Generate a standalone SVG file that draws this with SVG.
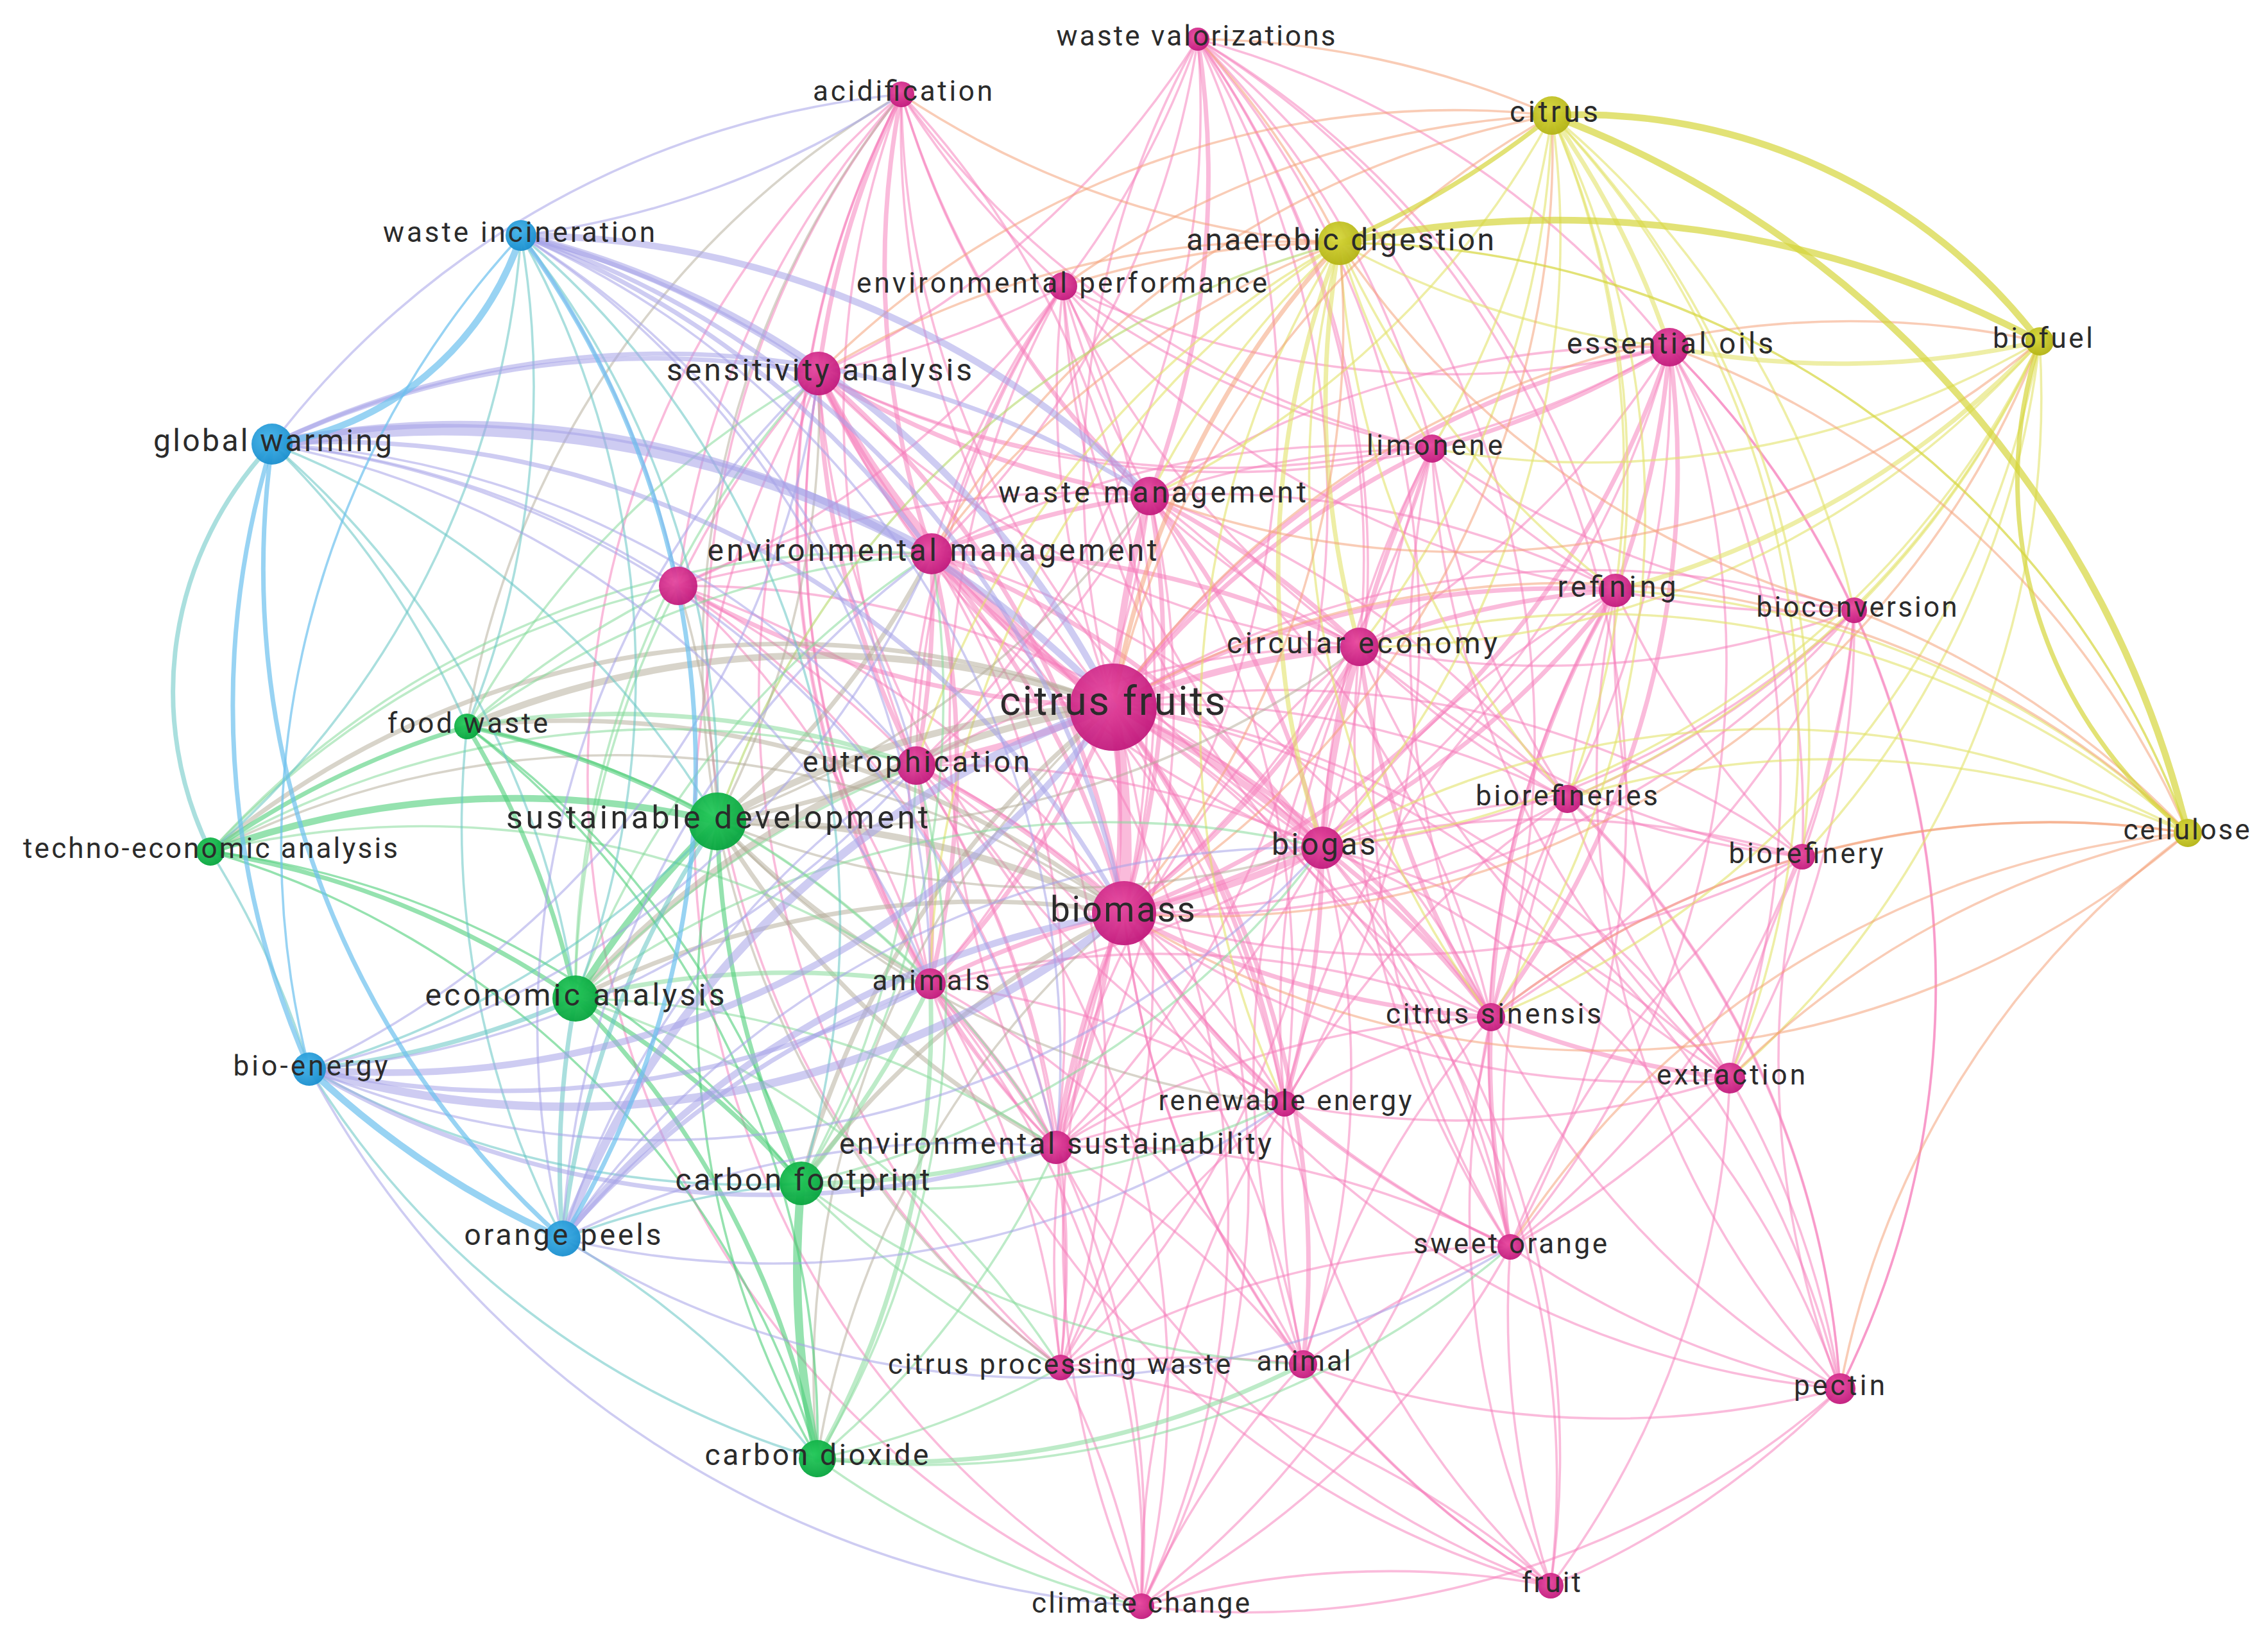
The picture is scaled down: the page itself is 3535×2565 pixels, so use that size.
<svg xmlns="http://www.w3.org/2000/svg" width="3535" height="2565" viewBox="0 0 3535 2565">
<defs>
<radialGradient id="gPk" cx=".42" cy=".38" r=".62"><stop offset="0" stop-color="#e8499f"/><stop offset="1" stop-color="#c21a7d"/></radialGradient>
<radialGradient id="gBl" cx=".42" cy=".38" r=".62"><stop offset="0" stop-color="#41b2e8"/><stop offset="1" stop-color="#1a8fcf"/></radialGradient>
<radialGradient id="gGr" cx=".42" cy=".38" r=".62"><stop offset="0" stop-color="#25c95a"/><stop offset="1" stop-color="#07a53e"/></radialGradient>
<radialGradient id="gYe" cx=".42" cy=".38" r=".62"><stop offset="0" stop-color="#d7d73c"/><stop offset="1" stop-color="#b4b414"/></radialGradient>
</defs>
<style>
#edges path{fill:none;stroke-width:3.6;stroke-linecap:round}
#edges path.w2{stroke-width:7}
#edges path.w3{stroke-width:10.5}
#edges path.w4{stroke-width:13}
#edges path.w5{stroke-width:18}
.pp{stroke:#f57cba;stroke-opacity:.52}
.yy{stroke:#d6d63c;stroke-opacity:.7}
.yl{stroke:#e2e26a;stroke-opacity:.6}
.yp{stroke:#f4a27a;stroke-opacity:.55}
.bb{stroke:#6cc0ee;stroke-opacity:.7}
.bp{stroke:#a6a2e8;stroke-opacity:.55}
.bg{stroke:#64c4c2;stroke-opacity:.55}
.gg{stroke:#4fcf79;stroke-opacity:.6}
.gl{stroke:#86da9a;stroke-opacity:.55}
.gp{stroke:#b1aa96;stroke-opacity:.5}
.gy{stroke:#b6d86a;stroke-opacity:.6}
.np{fill:url(#gPk);fill-opacity:.95}
.nb{fill:url(#gBl);fill-opacity:.95}
.ng{fill:url(#gGr);fill-opacity:.95}
.ny{fill:url(#gYe);fill-opacity:.95}
text{font-family:Roboto,"Liberation Sans",sans-serif;fill:#2b2b2b;text-anchor:middle}
.f44{font-size:44px}.f46{font-size:46px}.f48{font-size:48px}.f50{font-size:50px}.f55{font-size:55px}.f63{font-size:63px}
</style>
<rect width="3535" height="2565" fill="#ffffff"/>
<g id="edges">
<g class="pp">
<path d="M1735 1100A1400 1400 0 0 1 1867 61"/>
<path d="M1735 1100A1400 1400 0 0 1 1405 147"/>
<path d="M1735 1100A1400 1400 0 0 1 1657 446"/>
<path class="w2" d="M1735 1100A1400 1400 0 0 1 2602 541"/>
<path class="w3" d="M1735 1100A1400 1400 0 0 1 1276 582"/>
<path class="w2" d="M1735 1100A1400 1400 0 0 1 2232 699"/>
<path class="w3" d="M1735 1100A1400 1400 0 0 1 1792 773"/>
<path class="w3" d="M1735 1100A1400 1400 0 0 1 1452 863"/>
<path class="w2" d="M1735 1100A1400 1400 0 0 1 1057 913"/>
<path class="w2" d="M1735 1100A1400 1400 0 0 1 2518 920"/>
<path d="M1735 1100A1400 1400 0 0 1 2890 951"/>
<path class="w3" d="M1735 1100A1400 1400 0 0 1 2119 1008"/>
<path class="w3" d="M1735 1100A1400 1400 0 0 1 1428 1193"/>
<path d="M1735 1100A1400 1400 0 0 1 2443 1245"/>
<path class="w3" d="M1735 1100A1400 1400 0 0 1 2061 1321"/>
<path d="M1735 1100A1400 1400 0 0 1 2809 1335"/>
<path class="w5" d="M1735 1100A1400 1400 0 0 1 1752 1423"/>
<path class="w2" d="M1735 1100A1400 1400 0 0 1 1450 1533"/>
<path class="w2" d="M1735 1100A1400 1400 0 0 1 2324 1585"/>
<path d="M1735 1100A1400 1400 0 0 1 2696 1680"/>
<path class="w2" d="M1735 1100A1400 1400 0 0 1 2002 1720"/>
<path class="w2" d="M1735 1100A1400 1400 0 0 1 1646 1788"/>
<path d="M1735 1100A1400 1400 0 0 1 2354 1943"/>
<path d="M1735 1100A1400 1400 0 0 1 1653 2131"/>
<path class="w2" d="M1735 1100A1400 1400 0 0 1 2031 2126"/>
<path d="M1735 1100A1400 1400 0 0 1 2868 2164"/>
<path d="M1735 1100A1400 1400 0 0 1 2417 2471"/>
<path d="M1735 1100A1400 1400 0 0 1 1779 2503"/>
<path d="M1752 1423A1400 1400 0 0 0 1867 61"/>
<path d="M1752 1423A1400 1400 0 0 0 1405 147"/>
<path d="M1752 1423A1400 1400 0 0 0 1657 446"/>
<path class="w2" d="M1752 1423A1400 1400 0 0 0 2602 541"/>
<path class="w2" d="M1752 1423A1400 1400 0 0 0 1276 582"/>
<path d="M1752 1423A1400 1400 0 0 0 2232 699"/>
<path class="w2" d="M1752 1423A1400 1400 0 0 0 1792 773"/>
<path class="w2" d="M1752 1423A1400 1400 0 0 0 1452 863"/>
<path d="M1752 1423A1400 1400 0 0 0 1057 913"/>
<path class="w2" d="M1752 1423A1400 1400 0 0 0 2518 920"/>
<path d="M1752 1423A1400 1400 0 0 0 2890 951"/>
<path class="w2" d="M1752 1423A1400 1400 0 0 0 2119 1008"/>
<path class="w2" d="M1752 1423A1400 1400 0 0 0 1428 1193"/>
<path d="M1752 1423A1400 1400 0 0 0 2443 1245"/>
<path class="w3" d="M1752 1423A1400 1400 0 0 0 2061 1321"/>
<path d="M1752 1423A1400 1400 0 0 0 2809 1335"/>
<path class="w2" d="M1752 1423A1400 1400 0 0 0 1450 1533"/>
<path class="w2" d="M1752 1423A1400 1400 0 0 0 2324 1585"/>
<path d="M1752 1423A1400 1400 0 0 0 2696 1680"/>
<path class="w2" d="M1752 1423A1400 1400 0 0 0 2002 1720"/>
<path class="w2" d="M1752 1423A1400 1400 0 0 0 1646 1788"/>
<path d="M1752 1423A1400 1400 0 0 0 2354 1943"/>
<path d="M1752 1423A1400 1400 0 0 0 1653 2131"/>
<path d="M1752 1423A1400 1400 0 0 0 2031 2126"/>
<path d="M1752 1423A1400 1400 0 0 0 2868 2164"/>
<path d="M1752 1423A1400 1400 0 0 0 2417 2471"/>
<path d="M1752 1423A1400 1400 0 0 0 1779 2503"/>
<path d="M1867 61A1400 1400 0 0 1 1657 446"/>
<path d="M1867 61A1400 1400 0 0 1 1276 582"/>
<path class="w2" d="M1867 61A1400 1400 0 0 1 1792 773"/>
<path d="M1867 61A1400 1400 0 0 1 1452 863"/>
<path d="M1867 61A1400 1400 0 0 1 2119 1008"/>
<path d="M1867 61A1400 1400 0 0 1 2061 1321"/>
<path d="M1867 61A1400 1400 0 0 1 2232 699"/>
<path d="M1867 61A1400 1400 0 0 1 2602 541"/>
<path d="M1867 61A1400 1400 0 0 1 2518 920"/>
<path d="M1867 61A1400 1400 0 0 1 1428 1193"/>
<path d="M1867 61A1400 1400 0 0 1 1646 1788"/>
<path d="M1867 61A1400 1400 0 0 1 2002 1720"/>
<path d="M1867 61A1400 1400 0 0 1 2324 1585"/>
<path d="M1867 61A1400 1400 0 0 1 2354 1943"/>
<path class="w2" d="M1405 147A1400 1400 0 0 0 1276 582"/>
<path class="w2" d="M1405 147A1400 1400 0 0 0 1452 863"/>
<path d="M1405 147A1400 1400 0 0 0 1657 446"/>
<path d="M1405 147A1400 1400 0 0 0 1428 1193"/>
<path d="M1405 147A1400 1400 0 0 0 1450 1533"/>
<path d="M1405 147A1400 1400 0 0 0 1646 1788"/>
<path d="M1405 147A1400 1400 0 0 0 1653 2131"/>
<path d="M1405 147A1400 1400 0 0 0 1779 2503"/>
<path d="M1405 147A1400 1400 0 0 0 1057 913"/>
<path d="M1405 147A1400 1400 0 0 0 1792 773"/>
<path d="M1405 147A1400 1400 0 0 0 2061 1321"/>
<path d="M1405 147A1400 1400 0 0 0 2119 1008"/>
<path d="M1405 147A1400 1400 0 0 0 2232 699"/>
<path d="M1057 913A1400 1400 0 0 1 1452 863"/>
<path d="M1057 913A1400 1400 0 0 1 1276 582"/>
<path d="M1057 913A1400 1400 0 0 1 1428 1193"/>
<path d="M1057 913A1400 1400 0 0 1 1450 1533"/>
<path d="M1057 913A1400 1400 0 0 1 1646 1788"/>
<path d="M1057 913A1400 1400 0 0 1 2061 1321"/>
<path d="M1057 913A1400 1400 0 0 1 1792 773"/>
<path d="M1057 913A1400 1400 0 0 0 1657 446"/>
<path class="w3" d="M1276 582A1400 1400 0 0 0 1452 863"/>
<path class="w2" d="M1276 582A1400 1400 0 0 0 1428 1193"/>
<path class="w2" d="M1276 582A1400 1400 0 0 0 1792 773"/>
<path d="M1276 582A1400 1400 0 0 0 1657 446"/>
<path d="M1276 582A1400 1400 0 0 0 1450 1533"/>
<path d="M1276 582A1400 1400 0 0 0 1646 1788"/>
<path d="M1276 582A1400 1400 0 0 0 2119 1008"/>
<path d="M1276 582A1400 1400 0 0 0 2061 1321"/>
<path d="M1276 582A1400 1400 0 0 0 2002 1720"/>
<path d="M1276 582A1400 1400 0 0 0 1653 2131"/>
<path d="M1276 582A1400 1400 0 0 0 1779 2503"/>
<path d="M1276 582A1400 1400 0 0 0 2232 699"/>
<path d="M1276 582A1400 1400 0 0 0 2602 541"/>
<path class="w2" d="M1452 863A1400 1400 0 0 1 1428 1193"/>
<path class="w2" d="M1452 863A1400 1400 0 0 1 1792 773"/>
<path d="M1452 863A1400 1400 0 0 1 1657 446"/>
<path class="w2" d="M1452 863A1400 1400 0 0 1 1450 1533"/>
<path d="M1452 863A1400 1400 0 0 1 1646 1788"/>
<path class="w2" d="M1452 863A1400 1400 0 0 1 2119 1008"/>
<path class="w2" d="M1452 863A1400 1400 0 0 1 2061 1321"/>
<path d="M1452 863A1400 1400 0 0 1 2002 1720"/>
<path d="M1452 863A1400 1400 0 0 1 1653 2131"/>
<path d="M1452 863A1400 1400 0 0 1 1779 2503"/>
<path d="M1452 863A1400 1400 0 0 1 2232 699"/>
<path d="M1452 863A1400 1400 0 0 1 2324 1585"/>
<path d="M1657 446A1400 1400 0 0 0 1792 773"/>
<path d="M1657 446A1400 1400 0 0 0 2119 1008"/>
<path d="M1657 446A1400 1400 0 0 0 2232 699"/>
<path d="M1657 446A1400 1400 0 0 0 2602 541"/>
<path d="M1657 446A1400 1400 0 0 0 2061 1321"/>
<path d="M1657 446A1400 1400 0 0 0 1428 1193"/>
<path d="M1657 446A1400 1400 0 0 0 1450 1533"/>
<path d="M1657 446A1400 1400 0 0 0 1646 1788"/>
<path d="M1657 446A1400 1400 0 0 0 2518 920"/>
<path d="M1657 446A1400 1400 0 0 0 2324 1585"/>
<path class="w2" d="M1792 773A1400 1400 0 0 1 2119 1008"/>
<path d="M1792 773A1400 1400 0 0 1 2232 699"/>
<path class="w2" d="M1792 773A1400 1400 0 0 1 2061 1321"/>
<path d="M1792 773A1400 1400 0 0 1 1428 1193"/>
<path d="M1792 773A1400 1400 0 0 1 1450 1533"/>
<path d="M1792 773A1400 1400 0 0 1 1646 1788"/>
<path d="M1792 773A1400 1400 0 0 1 2002 1720"/>
<path d="M1792 773A1400 1400 0 0 1 2518 920"/>
<path d="M1792 773A1400 1400 0 0 1 2602 541"/>
<path d="M1792 773A1400 1400 0 0 1 2324 1585"/>
<path d="M1792 773A1400 1400 0 0 1 2443 1245"/>
<path class="w2" d="M2232 699A1400 1400 0 0 0 2602 541"/>
<path d="M2232 699A1400 1400 0 0 0 2518 920"/>
<path class="w2" d="M2232 699A1400 1400 0 0 0 2119 1008"/>
<path d="M2232 699A1400 1400 0 0 0 2061 1321"/>
<path d="M2232 699A1400 1400 0 0 0 2443 1245"/>
<path d="M2232 699A1400 1400 0 0 0 2324 1585"/>
<path d="M2232 699A1400 1400 0 0 0 2890 951"/>
<path d="M2232 699A1400 1400 0 0 0 2696 1680"/>
<path d="M2232 699A1400 1400 0 0 0 2354 1943"/>
<path class="w2" d="M2602 541A1400 1400 0 0 1 2518 920"/>
<path d="M2602 541A1400 1400 0 0 1 2890 951"/>
<path d="M2602 541A1400 1400 0 0 1 2119 1008"/>
<path d="M2602 541A1400 1400 0 0 1 2443 1245"/>
<path d="M2602 541A1400 1400 0 0 1 2809 1335"/>
<path class="w2" d="M2602 541A1400 1400 0 0 1 2324 1585"/>
<path d="M2602 541A1400 1400 0 0 1 2696 1680"/>
<path d="M2602 541A1400 1400 0 0 1 2354 1943"/>
<path d="M2602 541A1400 1400 0 0 1 2061 1321"/>
<path d="M2602 541A1400 1400 0 0 1 2868 2164"/>
<path d="M2518 920A1400 1400 0 0 0 2890 951"/>
<path class="w2" d="M2518 920A1400 1400 0 0 0 2119 1008"/>
<path d="M2518 920A1400 1400 0 0 0 2443 1245"/>
<path d="M2518 920A1400 1400 0 0 0 2809 1335"/>
<path class="w2" d="M2518 920A1400 1400 0 0 0 2324 1585"/>
<path d="M2518 920A1400 1400 0 0 0 2696 1680"/>
<path d="M2518 920A1400 1400 0 0 0 2061 1321"/>
<path d="M2518 920A1400 1400 0 0 0 2354 1943"/>
<path d="M2518 920A1400 1400 0 0 0 2868 2164"/>
<path d="M2518 920A1400 1400 0 0 0 2002 1720"/>
<path d="M2890 951A1400 1400 0 0 1 2809 1335"/>
<path d="M2890 951A1400 1400 0 0 1 2443 1245"/>
<path d="M2890 951A1400 1400 0 0 1 2324 1585"/>
<path d="M2890 951A1400 1400 0 0 1 2696 1680"/>
<path d="M2890 951A1400 1400 0 0 1 2119 1008"/>
<path d="M2890 951A1400 1400 0 0 1 2061 1321"/>
<path d="M2890 951A1400 1400 0 0 1 2868 2164"/>
<path d="M2890 951A1400 1400 0 0 1 2354 1943"/>
<path class="w3" d="M2119 1008A1400 1400 0 0 0 2061 1321"/>
<path d="M2119 1008A1400 1400 0 0 0 2443 1245"/>
<path class="w2" d="M2119 1008A1400 1400 0 0 0 2324 1585"/>
<path d="M2119 1008A1400 1400 0 0 0 2002 1720"/>
<path d="M2119 1008A1400 1400 0 0 0 1428 1193"/>
<path d="M2119 1008A1400 1400 0 0 0 2809 1335"/>
<path d="M2119 1008A1400 1400 0 0 0 2696 1680"/>
<path d="M2119 1008A1400 1400 0 0 0 2354 1943"/>
<path d="M2119 1008A1400 1400 0 0 0 2031 2126"/>
<path d="M2119 1008A1400 1400 0 0 0 1646 1788"/>
<path class="w2" d="M1428 1193A1400 1400 0 0 1 1450 1533"/>
<path d="M1428 1193A1400 1400 0 0 1 1646 1788"/>
<path d="M1428 1193A1400 1400 0 0 1 2061 1321"/>
<path d="M1428 1193A1400 1400 0 0 1 1653 2131"/>
<path d="M1428 1193A1400 1400 0 0 1 2002 1720"/>
<path d="M1428 1193A1400 1400 0 0 1 1779 2503"/>
<path d="M1428 1193A1400 1400 0 0 1 2031 2126"/>
<path d="M2443 1245A1400 1400 0 0 0 2809 1335"/>
<path d="M2443 1245A1400 1400 0 0 0 2324 1585"/>
<path d="M2443 1245A1400 1400 0 0 0 2696 1680"/>
<path d="M2443 1245A1400 1400 0 0 0 2061 1321"/>
<path d="M2443 1245A1400 1400 0 0 0 2354 1943"/>
<path d="M2443 1245A1400 1400 0 0 0 2002 1720"/>
<path class="w2" d="M2061 1321A1400 1400 0 0 1 2324 1585"/>
<path class="w2" d="M2061 1321A1400 1400 0 0 1 2002 1720"/>
<path d="M2061 1321A1400 1400 0 0 1 2809 1335"/>
<path d="M2061 1321A1400 1400 0 0 1 2696 1680"/>
<path d="M2061 1321A1400 1400 0 0 1 2354 1943"/>
<path d="M2061 1321A1400 1400 0 0 1 2031 2126"/>
<path d="M2061 1321A1400 1400 0 0 1 1646 1788"/>
<path d="M2061 1321A1400 1400 0 0 1 1450 1533"/>
<path d="M2061 1321A1400 1400 0 0 1 1653 2131"/>
<path d="M2061 1321A1400 1400 0 0 1 2868 2164"/>
<path d="M2061 1321A1400 1400 0 0 1 2417 2471"/>
<path d="M2809 1335A1400 1400 0 0 0 2324 1585"/>
<path d="M2809 1335A1400 1400 0 0 0 2696 1680"/>
<path d="M2809 1335A1400 1400 0 0 0 2868 2164"/>
<path d="M2809 1335A1400 1400 0 0 0 2354 1943"/>
<path class="w2" d="M1450 1533A1400 1400 0 0 1 1646 1788"/>
<path d="M1450 1533A1400 1400 0 0 1 1653 2131"/>
<path d="M1450 1533A1400 1400 0 0 1 2031 2126"/>
<path d="M1450 1533A1400 1400 0 0 1 2002 1720"/>
<path d="M1450 1533A1400 1400 0 0 1 1779 2503"/>
<path d="M1450 1533A1400 1400 0 0 1 2324 1585"/>
<path class="w2" d="M2324 1585A1400 1400 0 0 0 2696 1680"/>
<path class="w2" d="M2324 1585A1400 1400 0 0 0 2354 1943"/>
<path d="M2324 1585A1400 1400 0 0 0 2002 1720"/>
<path d="M2324 1585A1400 1400 0 0 0 2031 2126"/>
<path d="M2324 1585A1400 1400 0 0 0 2868 2164"/>
<path d="M2324 1585A1400 1400 0 0 0 2417 2471"/>
<path d="M2324 1585A1400 1400 0 0 0 1646 1788"/>
<path d="M2696 1680A1400 1400 0 0 1 2354 1943"/>
<path d="M2696 1680A1400 1400 0 0 1 2868 2164"/>
<path d="M2696 1680A1400 1400 0 0 1 2417 2471"/>
<path d="M2696 1680A1400 1400 0 0 1 2002 1720"/>
<path d="M2002 1720A1400 1400 0 0 0 1646 1788"/>
<path d="M2002 1720A1400 1400 0 0 0 2354 1943"/>
<path d="M2002 1720A1400 1400 0 0 0 2031 2126"/>
<path d="M2002 1720A1400 1400 0 0 0 1653 2131"/>
<path d="M2002 1720A1400 1400 0 0 0 1779 2503"/>
<path d="M2002 1720A1400 1400 0 0 0 2417 2471"/>
<path d="M1646 1788A1400 1400 0 0 1 1653 2131"/>
<path d="M1646 1788A1400 1400 0 0 1 2031 2126"/>
<path d="M1646 1788A1400 1400 0 0 1 1779 2503"/>
<path d="M1646 1788A1400 1400 0 0 1 2354 1943"/>
<path d="M2354 1943A1400 1400 0 0 0 2031 2126"/>
<path d="M2354 1943A1400 1400 0 0 0 2417 2471"/>
<path d="M2354 1943A1400 1400 0 0 0 2868 2164"/>
<path d="M2354 1943A1400 1400 0 0 0 1653 2131"/>
<path d="M1653 2131A1400 1400 0 0 1 2031 2126"/>
<path d="M1653 2131A1400 1400 0 0 1 1779 2503"/>
<path d="M1653 2131A1400 1400 0 0 1 2417 2471"/>
<path d="M2031 2126A1400 1400 0 0 0 1779 2503"/>
<path d="M2031 2126A1400 1400 0 0 0 2417 2471"/>
<path d="M2031 2126A1400 1400 0 0 0 2868 2164"/>
<path d="M2868 2164A1400 1400 0 0 1 2417 2471"/>
<path d="M2868 2164A1400 1400 0 0 1 1779 2503"/>
<path d="M2417 2471A1400 1400 0 0 0 1779 2503"/>
<path d="M1779 2503A1400 1400 0 0 0 2354 1943"/>
<path d="M1779 2503A1400 1400 0 0 0 2324 1585"/>
<path d="M2417 2471A1400 1400 0 0 1 1450 1533"/>
<path d="M2417 2471A1400 1400 0 0 1 1646 1788"/>
<path d="M2868 2164A1400 1400 0 0 0 2119 1008"/>
<path d="M2868 2164A1400 1400 0 0 0 2443 1245"/>
</g>
<g class="yl">
<path class="w2" d="M2419 180A1400 1400 0 0 1 2602 541"/>
<path d="M2419 180A1400 1400 0 0 1 2232 699"/>
<path d="M2419 180A1400 1400 0 0 1 2518 920"/>
<path d="M2419 180A1400 1400 0 0 1 2119 1008"/>
<path d="M2419 180A1400 1400 0 0 1 2061 1321"/>
<path d="M2419 180A1400 1400 0 0 1 2443 1245"/>
<path d="M2419 180A1400 1400 0 0 1 2809 1335"/>
<path d="M2419 180A1400 1400 0 0 1 2890 951"/>
<path d="M2419 180A1400 1400 0 0 1 2324 1585"/>
<path d="M2419 180A1400 1400 0 0 1 2696 1680"/>
<path d="M2419 180A1400 1400 0 0 1 1792 773"/>
<path class="w2" d="M2088 379A1400 1400 0 0 0 2061 1321"/>
<path class="w2" d="M2088 379A1400 1400 0 0 0 2119 1008"/>
<path d="M2088 379A1400 1400 0 0 0 2232 699"/>
<path d="M2088 379A1400 1400 0 0 0 2518 920"/>
<path d="M2088 379A1400 1400 0 0 0 2602 541"/>
<path d="M2088 379A1400 1400 0 0 0 1792 773"/>
<path d="M2088 379A1400 1400 0 0 0 1428 1193"/>
<path d="M2088 379A1400 1400 0 0 0 2443 1245"/>
<path d="M2088 379A1400 1400 0 0 0 2324 1585"/>
<path d="M2088 379A1400 1400 0 0 0 2002 1720"/>
<path d="M2088 379A1400 1400 0 0 0 1450 1533"/>
<path class="w2" d="M3179 532A1400 1400 0 0 1 2602 541"/>
<path class="w2" d="M3179 532A1400 1400 0 0 1 2518 920"/>
<path d="M3179 532A1400 1400 0 0 1 2890 951"/>
<path d="M3179 532A1400 1400 0 0 1 2232 699"/>
<path d="M3179 532A1400 1400 0 0 1 2119 1008"/>
<path d="M3179 532A1400 1400 0 0 1 2061 1321"/>
<path d="M3179 532A1400 1400 0 0 1 2443 1245"/>
<path d="M3179 532A1400 1400 0 0 1 2809 1335"/>
<path d="M3179 532A1400 1400 0 0 1 2696 1680"/>
<path d="M3179 532A1400 1400 0 0 1 2324 1585"/>
<path d="M3410 1298A1400 1400 0 0 0 2518 920"/>
<path d="M3410 1298A1400 1400 0 0 0 2443 1245"/>
<path d="M3410 1298A1400 1400 0 0 0 2119 1008"/>
<path d="M3410 1298A1400 1400 0 0 0 2061 1321"/>
</g>
<g class="yp">
<path d="M1735 1100A1400 1400 0 0 1 2419 180"/>
<path class="w2" d="M1735 1100A1400 1400 0 0 1 2088 379"/>
<path d="M1735 1100A1400 1400 0 0 1 3179 532"/>
<path d="M1735 1100A1400 1400 0 0 1 3410 1298"/>
<path d="M1752 1423A1400 1400 0 0 0 2419 180"/>
<path d="M1752 1423A1400 1400 0 0 0 2088 379"/>
<path d="M1752 1423A1400 1400 0 0 0 3179 532"/>
<path d="M1752 1423A1400 1400 0 0 0 3410 1298"/>
<path d="M1867 61A1400 1400 0 0 1 2419 180"/>
<path d="M1867 61A1400 1400 0 0 1 2088 379"/>
<path d="M1405 147A1400 1400 0 0 0 2088 379"/>
<path d="M2419 180A1400 1400 0 0 0 1657 446"/>
<path d="M2419 180A1400 1400 0 0 0 1276 582"/>
<path d="M2419 180A1400 1400 0 0 0 1452 863"/>
<path d="M2088 379A1400 1400 0 0 0 1452 863"/>
<path d="M2088 379A1400 1400 0 0 0 1657 446"/>
<path d="M2088 379A1400 1400 0 0 0 1276 582"/>
<path d="M2088 379A1400 1400 0 0 0 2890 951"/>
<path d="M3179 532A1400 1400 0 0 1 1792 773"/>
<path d="M3410 1298A1400 1400 0 0 0 2890 951"/>
<path d="M3410 1298A1400 1400 0 0 0 2809 1335"/>
<path d="M3410 1298A1400 1400 0 0 0 2602 541"/>
<path d="M3410 1298A1400 1400 0 0 0 2696 1680"/>
<path d="M3410 1298A1400 1400 0 0 0 2324 1585"/>
<path d="M3410 1298A1400 1400 0 0 0 2868 2164"/>
<path d="M3410 1298A1400 1400 0 0 0 2354 1943"/>
</g>
<g class="yy">
<path class="w2" d="M2419 180A1400 1400 0 0 1 2088 379"/>
<path class="w3" d="M2419 180A900 900 0 0 1 3179 532"/>
<path class="w3" d="M2419 180A1600 1600 0 0 1 3410 1298"/>
<path class="w3" d="M2088 379A1600 1600 0 0 1 3179 532"/>
<path d="M2088 379A1400 1400 0 0 1 3410 1298"/>
<path class="w2" d="M3179 532A700 700 0 0 0 3410 1298"/>
</g>
<g class="gy">
<path d="M2088 379A1400 1400 0 0 0 1118 1280"/>
</g>
<g class="gp">
<path class="w3" d="M728 1132A1400 1400 0 0 1 1735 1100"/>
<path class="w2" d="M728 1132A1400 1400 0 0 1 1752 1423"/>
<path class="w3" d="M1118 1280A1400 1400 0 0 1 1735 1100"/>
<path class="w3" d="M1118 1280A1400 1400 0 0 1 1752 1423"/>
<path class="w2" d="M328 1327A1400 1400 0 0 1 1735 1100"/>
<path d="M328 1327A1400 1400 0 0 1 1752 1423"/>
<path class="w3" d="M897 1556A1400 1400 0 0 1 1735 1100"/>
<path class="w2" d="M897 1556A1400 1400 0 0 1 1752 1423"/>
<path class="w2" d="M1249 1844A1400 1400 0 0 1 1735 1100"/>
<path class="w2" d="M1249 1844A1400 1400 0 0 1 1752 1423"/>
<path d="M1274 2273A1400 1400 0 0 1 1735 1100"/>
<path d="M1274 2273A1400 1400 0 0 1 1752 1423"/>
<path d="M1405 147A1400 1400 0 0 0 728 1132"/>
<path d="M1405 147A1400 1400 0 0 0 1118 1280"/>
<path class="w2" d="M1118 1280A1400 1400 0 0 0 1428 1193"/>
<path class="w2" d="M1118 1280A1400 1400 0 0 0 1452 863"/>
<path class="w2" d="M1118 1280A1400 1400 0 0 0 1450 1533"/>
<path class="w2" d="M1118 1280A1400 1400 0 0 0 1646 1788"/>
<path d="M1118 1280A1400 1400 0 0 0 2061 1321"/>
<path d="M1118 1280A1400 1400 0 0 0 2119 1008"/>
<path d="M1118 1280A1400 1400 0 0 0 1792 773"/>
<path d="M1118 1280A1400 1400 0 0 0 1276 582"/>
<path d="M1118 1280A1400 1400 0 0 0 1057 913"/>
<path d="M1118 1280A1400 1400 0 0 0 2002 1720"/>
<path d="M1118 1280A1400 1400 0 0 0 1653 2131"/>
</g>
<g class="gl">
<path d="M328 1327A1400 1400 0 0 1 1452 863"/>
<path d="M328 1327A1400 1400 0 0 1 1428 1193"/>
<path d="M328 1327A1400 1400 0 0 1 1450 1533"/>
<path d="M328 1327A1400 1400 0 0 1 1057 913"/>
<path d="M728 1132A1400 1400 0 0 1 1452 863"/>
<path class="w2" d="M728 1132A1400 1400 0 0 1 1428 1193"/>
<path d="M728 1132A1400 1400 0 0 1 1450 1533"/>
<path d="M728 1132A1400 1400 0 0 1 1057 913"/>
<path d="M728 1132A1400 1400 0 0 1 1276 582"/>
<path d="M728 1132A1400 1400 0 0 1 1646 1788"/>
<path class="w2" d="M897 1556A1400 1400 0 0 1 1450 1533"/>
<path d="M897 1556A1400 1400 0 0 1 1428 1193"/>
<path d="M897 1556A1400 1400 0 0 1 1646 1788"/>
<path d="M897 1556A1400 1400 0 0 1 1452 863"/>
<path d="M897 1556A1400 1400 0 0 1 1057 913"/>
<path d="M897 1556A1400 1400 0 0 1 1276 582"/>
<path d="M897 1556A1400 1400 0 0 1 2061 1321"/>
<path d="M897 1556A1400 1400 0 0 1 1653 2131"/>
<path class="w2" d="M1249 1844A1400 1400 0 0 0 1450 1533"/>
<path class="w2" d="M1249 1844A1400 1400 0 0 0 1646 1788"/>
<path d="M1249 1844A1400 1400 0 0 0 1653 2131"/>
<path d="M1249 1844A1400 1400 0 0 0 2002 1720"/>
<path d="M1249 1844A1400 1400 0 0 0 1428 1193"/>
<path d="M1249 1844A1400 1400 0 0 0 2061 1321"/>
<path d="M1249 1844A1400 1400 0 0 0 2031 2126"/>
<path d="M1249 1844A1400 1400 0 0 0 1452 863"/>
<path class="w2" d="M1274 2273A1400 1400 0 0 0 1450 1533"/>
<path d="M1274 2273A1400 1400 0 0 0 1646 1788"/>
<path d="M1274 2273A1400 1400 0 0 0 1653 2131"/>
<path class="w2" d="M1274 2273A1400 1400 0 0 0 2031 2126"/>
<path d="M1274 2273A1400 1400 0 0 0 2354 1943"/>
<path d="M1274 2273A1400 1400 0 0 0 1779 2503"/>
<path d="M1274 2273A1400 1400 0 0 0 1428 1193"/>
</g>
<g class="gg">
<path class="w2" d="M328 1327A1400 1400 0 0 1 728 1132"/>
<path class="w3" d="M328 1327A1400 1400 0 0 1 1118 1280"/>
<path class="w2" d="M328 1327A1400 1400 0 0 1 897 1556"/>
<path d="M328 1327A1400 1400 0 0 1 1249 1844"/>
<path d="M328 1327A1400 1400 0 0 1 1274 2273"/>
<path class="w2" d="M728 1132A1400 1400 0 0 1 1118 1280"/>
<path class="w2" d="M728 1132A1400 1400 0 0 1 897 1556"/>
<path d="M728 1132A1400 1400 0 0 1 1249 1844"/>
<path d="M728 1132A1400 1400 0 0 1 1274 2273"/>
<path class="w3" d="M1118 1280A1400 1400 0 0 0 897 1556"/>
<path class="w2" d="M1118 1280A1400 1400 0 0 0 1249 1844"/>
<path d="M1118 1280A1400 1400 0 0 0 1274 2273"/>
<path class="w2" d="M897 1556A1400 1400 0 0 1 1249 1844"/>
<path class="w2" d="M897 1556A1400 1400 0 0 1 1274 2273"/>
<path class="w4" d="M1249 1844A1400 1400 0 0 0 1274 2273"/>
</g>
<g class="bg">
<path d="M812 367A1400 1400 0 0 1 1118 1280"/>
<path d="M812 367A1400 1400 0 0 1 897 1556"/>
<path d="M812 367A1400 1400 0 0 1 728 1132"/>
<path d="M812 367A1400 1400 0 0 1 1249 1844"/>
<path d="M812 367A1400 1400 0 0 1 328 1327"/>
<path class="w2" d="M424 692A560 560 0 0 0 328 1327"/>
<path d="M424 692A1400 1400 0 0 1 897 1556"/>
<path d="M424 692A1400 1400 0 0 1 1118 1280"/>
<path d="M424 692A1400 1400 0 0 1 728 1132"/>
<path d="M482 1666A1400 1400 0 0 0 328 1327"/>
<path class="w2" d="M482 1666A1400 1400 0 0 0 897 1556"/>
<path d="M482 1666A1400 1400 0 0 0 1118 1280"/>
<path d="M482 1666A1400 1400 0 0 0 1249 1844"/>
<path d="M482 1666A1400 1400 0 0 0 1274 2273"/>
<path class="w2" d="M877 1930A1400 1400 0 0 1 897 1556"/>
<path class="w2" d="M877 1930A1400 1400 0 0 1 1118 1280"/>
<path d="M877 1930A1400 1400 0 0 1 1249 1844"/>
<path d="M877 1930A1400 1400 0 0 1 1274 2273"/>
<path d="M877 1930A1400 1400 0 0 1 728 1132"/>
</g>
<g class="bp">
<path class="w3" d="M812 367A1400 1400 0 0 1 1735 1100"/>
<path class="w2" d="M812 367A1400 1400 0 0 1 1752 1423"/>
<path class="w2" d="M812 367A1400 1400 0 0 1 1276 582"/>
<path class="w2" d="M812 367A1400 1400 0 0 1 1452 863"/>
<path class="w3" d="M812 367A1400 1400 0 0 1 1792 773"/>
<path d="M812 367A1400 1400 0 0 1 1428 1193"/>
<path d="M812 367A1400 1400 0 0 1 1450 1533"/>
<path d="M812 367A1400 1400 0 0 1 1646 1788"/>
<path d="M812 367A1400 1400 0 0 1 1057 913"/>
<path d="M812 367A1400 1400 0 0 0 1405 147"/>
<path class="w3" d="M424 692A1400 1400 0 0 1 1735 1100"/>
<path class="w2" d="M424 692A1400 1400 0 0 1 1752 1423"/>
<path class="w2" d="M424 692A1400 1400 0 0 1 1276 582"/>
<path class="w5" d="M424 692A1600 1600 0 0 1 1452 863"/>
<path d="M424 692A1400 1400 0 0 1 1428 1193"/>
<path d="M424 692A1400 1400 0 0 1 1057 913"/>
<path d="M424 692A1400 1400 0 0 1 1450 1533"/>
<path d="M424 692A1400 1400 0 0 1 1646 1788"/>
<path class="w2" d="M424 692A1400 1400 0 0 1 1792 773"/>
<path d="M424 692A1400 1400 0 0 1 1405 147"/>
<path class="w3" d="M482 1666A1400 1400 0 0 0 1735 1100"/>
<path class="w4" d="M482 1666A1400 1400 0 0 0 1752 1423"/>
<path class="w2" d="M482 1666A1400 1400 0 0 0 1450 1533"/>
<path class="w2" d="M482 1666A1400 1400 0 0 0 1646 1788"/>
<path d="M482 1666A1400 1400 0 0 0 1428 1193"/>
<path d="M482 1666A1400 1400 0 0 0 1452 863"/>
<path d="M482 1666A1400 1400 0 0 0 2061 1321"/>
<path d="M482 1666A1400 1400 0 0 0 1276 582"/>
<path d="M482 1666A1600 1600 0 0 0 1779 2503"/>
<path class="w4" d="M877 1930A1400 1400 0 0 1 1735 1100"/>
<path class="w3" d="M877 1930A1400 1400 0 0 1 1752 1423"/>
<path class="w2" d="M877 1930A1400 1400 0 0 1 1450 1533"/>
<path d="M877 1930A1400 1400 0 0 1 1646 1788"/>
<path d="M877 1930A1400 1400 0 0 1 1428 1193"/>
<path d="M877 1930A1400 1400 0 0 1 1452 863"/>
<path d="M877 1930A1400 1400 0 0 1 2061 1321"/>
<path d="M877 1930A1400 1400 0 0 1 1276 582"/>
<path d="M877 1930A1400 1400 0 0 0 2002 1720"/>
<path d="M877 1930A1400 1400 0 0 0 2354 1943"/>
</g>
<g class="bb">
<path class="w3" d="M812 367A480 480 0 0 1 424 692"/>
<path class="w2" d="M812 367A1400 1400 0 0 1 877 1930"/>
<path d="M812 367A1400 1400 0 0 0 482 1666"/>
<path class="w2" d="M424 692A1400 1400 0 0 0 482 1666"/>
<path class="w2" d="M424 692A1400 1400 0 0 0 877 1930"/>
<path class="w3" d="M482 1666A1400 1400 0 0 0 877 1930"/>
</g>
</g>
<g id="node-citrus-fruits"><circle class="np" cx="1735" cy="1102" r="68"/><text class="f63" x="1734" y="1114" textLength="352">citrus fruits</text></g>
<g id="node-biomass"><circle class="np" cx="1752" cy="1423" r="50"/><text class="f55" x="1750" y="1436" textLength="226">biomass</text></g>
<g id="node-waste-valorizations"><circle class="np" cx="1867" cy="61" r="18"/><text class="f44" x="1864" y="71" textLength="435">waste valorizations</text></g>
<g id="node-acidification"><circle class="np" cx="1405" cy="147" r="20"/><text class="f44" x="1407" y="157" textLength="280">acidification</text></g>
<g id="node-citrus"><circle class="ny" cx="2419" cy="180" r="30"/><text class="f46" x="2422" y="190" textLength="138">citrus</text></g>
<g id="node-waste-incineration"><circle class="nb" cx="812" cy="367" r="24"/><text class="f44" x="809" y="377" textLength="424">waste incineration</text></g>
<g id="node-anaerobic-digestion"><circle class="ny" cx="2088" cy="379" r="34"/><text class="f48" x="2089" y="390" textLength="480">anaerobic digestion</text></g>
<g id="node-environmental-performance"><circle class="np" cx="1657" cy="446" r="22"/><text class="f44" x="1655" y="456" textLength="640">environmental performance</text></g>
<g id="node-essential-oils"><circle class="np" cx="2602" cy="541" r="30"/><text class="f46" x="2603" y="551" textLength="322">essential oils</text></g>
<g id="node-biofuel"><circle class="ny" cx="3179" cy="532" r="22"/><text class="f44" x="3184" y="542" textLength="156">biofuel</text></g>
<g id="node-sensitivity-analysis"><circle class="np" cx="1276" cy="582" r="34"/><text class="f48" x="1277" y="593" textLength="476">sensitivity analysis</text></g>
<g id="node-global-warming"><circle class="nb" cx="424" cy="692" r="32"/><text class="f48" x="425" y="703" textLength="372">global warming</text></g>
<g id="node-limonene"><circle class="np" cx="2232" cy="699" r="22"/><text class="f44" x="2236" y="709" textLength="212">limonene</text></g>
<g id="node-waste-management"><circle class="np" cx="1792" cy="773" r="30"/><text class="f46" x="1796" y="783" textLength="480">waste management</text></g>
<g id="node-environmental-management"><circle class="np" cx="1452" cy="863" r="32"/><text class="f48" x="1453" y="874" textLength="701">environmental management</text></g>
<g id="node-unlabeled"><circle class="np" cx="1057" cy="913" r="30"/></g>
<g id="node-refining"><circle class="np" cx="2518" cy="920" r="26"/><text class="f46" x="2520" y="930" textLength="185">refining</text></g>
<g id="node-bioconversion"><circle class="np" cx="2890" cy="951" r="20"/><text class="f44" x="2894" y="961" textLength="313">bioconversion</text></g>
<g id="node-circular-economy"><circle class="np" cx="2119" cy="1008" r="30"/><text class="f46" x="2123" y="1018" textLength="422">circular economy</text></g>
<g id="node-food-waste"><circle class="ng" cx="728" cy="1132" r="20"/><text class="f44" x="729" y="1142" textLength="250">food waste</text></g>
<g id="node-eutrophication"><circle class="np" cx="1428" cy="1193" r="30"/><text class="f46" x="1428" y="1203" textLength="354">eutrophication</text></g>
<g id="node-biorefineries"><circle class="np" cx="2443" cy="1245" r="22"/><text class="f44" x="2442" y="1255" textLength="284">biorefineries</text></g>
<g id="node-sustainable-development"><circle class="ng" cx="1118" cy="1280" r="45"/><text class="f50" x="1118" y="1291" textLength="658">sustainable development</text></g>
<g id="node-techno-economic-analysis"><circle class="ng" cx="328" cy="1327" r="22"/><text class="f44" x="328" y="1337" textLength="584">techno-economic analysis</text></g>
<g id="node-biogas"><circle class="np" cx="2061" cy="1321" r="33"/><text class="f48" x="2063" y="1332" textLength="162">biogas</text></g>
<g id="node-cellulose"><circle class="ny" cx="3410" cy="1298" r="22"/><text class="f44" x="3408" y="1308" textLength="197">cellulose</text></g>
<g id="node-biorefinery"><circle class="np" cx="2809" cy="1335" r="20"/><text class="f44" x="2815" y="1345" textLength="241">biorefinery</text></g>
<g id="node-animals"><circle class="np" cx="1450" cy="1533" r="24"/><text class="f44" x="1451" y="1543" textLength="183">animals</text></g>
<g id="node-economic-analysis"><circle class="ng" cx="897" cy="1556" r="36"/><text class="f48" x="896" y="1567" textLength="467">economic analysis</text></g>
<g id="node-citrus-sinensis"><circle class="np" cx="2324" cy="1585" r="22"/><text class="f44" x="2328" y="1595" textLength="336">citrus sinensis</text></g>
<g id="node-bio-energy"><circle class="nb" cx="482" cy="1666" r="26"/><text class="f44" x="484" y="1676" textLength="241">bio-energy</text></g>
<g id="node-extraction"><circle class="np" cx="2696" cy="1680" r="24"/><text class="f44" x="2698" y="1690" textLength="232">extraction</text></g>
<g id="node-renewable-energy"><circle class="np" cx="2002" cy="1720" r="20"/><text class="f44" x="2003" y="1730" textLength="395">renewable energy</text></g>
<g id="node-environmental-sustainability"><circle class="np" cx="1646" cy="1788" r="26"/><text class="f46" x="1645" y="1798" textLength="674">environmental sustainability</text></g>
<g id="node-carbon-footprint"><circle class="ng" cx="1249" cy="1844" r="34"/><text class="f48" x="1251" y="1855" textLength="397">carbon footprint</text></g>
<g id="node-orange-peels"><circle class="nb" cx="877" cy="1930" r="28"/><text class="f46" x="877" y="1940" textLength="307">orange peels</text></g>
<g id="node-sweet-orange"><circle class="np" cx="2354" cy="1943" r="20"/><text class="f44" x="2354" y="1953" textLength="302">sweet orange</text></g>
<g id="node-citrus-processing-waste"><circle class="np" cx="1653" cy="2131" r="20"/><text class="f44" x="1651" y="2141" textLength="534">citrus processing waste</text></g>
<g id="node-animal"><circle class="np" cx="2031" cy="2126" r="22"/><text class="f44" x="2032" y="2136" textLength="147">animal</text></g>
<g id="node-pectin"><circle class="np" cx="2868" cy="2164" r="24"/><text class="f44" x="2867" y="2174" textLength="142">pectin</text></g>
<g id="node-carbon-dioxide"><circle class="ng" cx="1274" cy="2273" r="29"/><text class="f46" x="1273" y="2283" textLength="349">carbon dioxide</text></g>
<g id="node-fruit"><circle class="np" cx="2417" cy="2471" r="20"/><text class="f44" x="2418" y="2481" textLength="92">fruit</text></g>
<g id="node-climate-change"><circle class="np" cx="1779" cy="2503" r="20"/><text class="f44" x="1778" y="2513" textLength="340">climate change</text></g>
</svg>
